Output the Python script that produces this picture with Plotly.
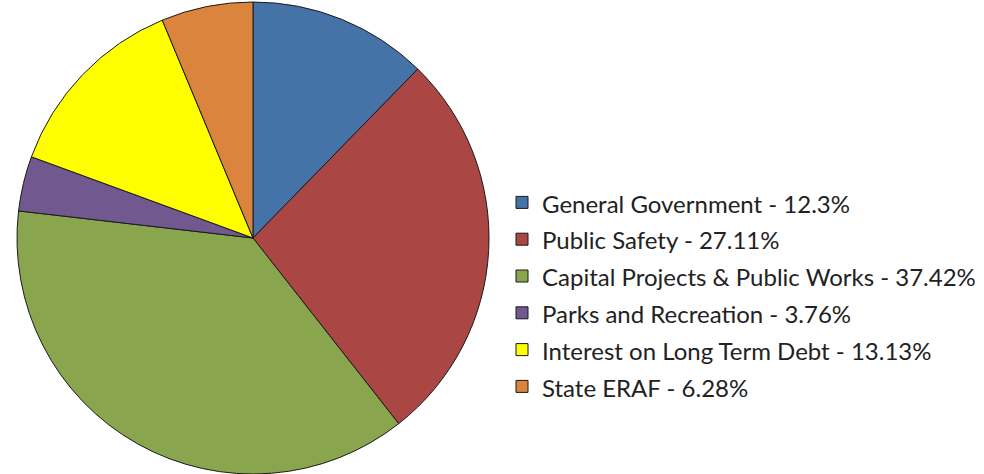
import plotly.graph_objects as go

categories = [
    "General Government",
    "Public Safety",
    "Capital Projects & Public Works",
    "Parks and Recreation",
    "Interest on Long Term Debt",
    "State ERAF",
]
shares = [12.3, 27.11, 37.42, 3.76, 13.13, 6.28]
colors = ["#4572A7", "#AA4643", "#89A54E", "#71588F", "#FFFF00", "#DB843D"]

# legend rows use a slightly smaller glyph size than the row pitch
legend_labels = [
    f'<span style="font-size:24px">{c} - {v:g}%</span>' for c, v in zip(categories, shares)
]

fig = go.Figure(
    go.Pie(
        labels=legend_labels,
        values=shares,
        sort=False,
        direction="clockwise",
        rotation=0,
        textinfo="none",
        hoverinfo="none",
        marker=dict(colors=colors, line=dict(color="#1a1a1a", width=1)),
        domain=dict(x=[(253 - 236) / 984, (253 + 236) / 984], y=[0, 472 / 474]),
    )
)

fig.update_layout(
    width=984,
    height=474,
    margin=dict(l=0, r=0, t=0, b=0),
    paper_bgcolor="white",
    plot_bgcolor="white",
    showlegend=True,
    legend=dict(
        x=502 / 984,
        y=1 - 179 / 474,
        xanchor="left",
        yanchor="top",
        font=dict(family="Lato, Open Sans, sans-serif", size=26, color="#222222"),
        bgcolor="rgba(0,0,0,0)",
        itemclick=False,
    ),
)

fig.write_html("out.html")
